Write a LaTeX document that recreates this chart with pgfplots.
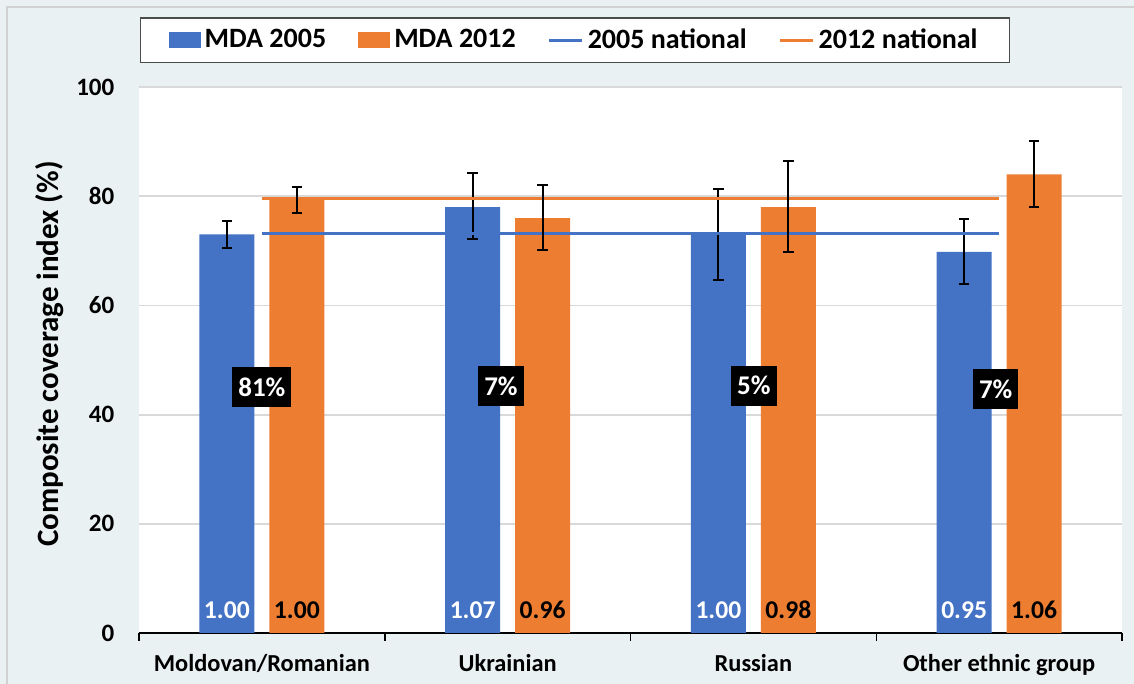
\documentclass[border=0pt]{standalone}
\usepackage{fontspec}
\setmainfont{Carlito}
\usepackage{pgfplots}
\pgfplotsset{compat=1.18}
\definecolor{cblue}{HTML}{4472C4}
\definecolor{corange}{HTML}{ED7D31}
\definecolor{bgc}{HTML}{EAF1F3}
\definecolor{gridc}{HTML}{D9D9D9}
\begin{document}
\begin{tikzpicture}
\path[use as bounding box, fill=bgc] (-69.5pt,-25.5pt) rectangle (497.5pt,316.5pt);
\draw[black!18, line width=1pt] (-66pt,-25.5pt) -- (-66pt,313pt) -- (497.5pt,313pt);
\begin{axis}[
  at={(0,0)}, anchor=south west,
  scale only axis, width=491.5pt, height=273.5pt,
  xmin=-0.5, xmax=3.5, ymin=0, ymax=100.2,
  axis x line*=bottom, axis y line*=left,
  axis line style={-},
  y axis line style={draw=none},
  x axis line style={black, line width=0.75pt},
  major tick length=0pt,
  xtick={0,1,2,3},
  xticklabels={Moldovan/Romanian, Ukrainian, Russian, Other ethnic group},
  extra x ticks={-0.5,0.5,1.5,2.5,3.5},
  extra x tick labels={},
  extra x tick style={major tick length=4pt, tick align=outside, tick style={black, line width=0.75pt}},
  ytick={0,20,40,60,80,100},
  ymajorgrids, grid style={gridc, line width=0.9pt},
  axis background/.style={fill=white},
  /pgf/number format/assume math mode=true,
  tick label style={black, font=\bfseries\fontsize{12.5}{15}\selectfont},
  yticklabel style={anchor=east, xshift=-8.8pt},
  xticklabel style={anchor=base, yshift=-19.5pt, font=\bfseries\fontsize{12.2}{14}\selectfont},
  ylabel={Composite coverage index (\%)},
  ylabel style={font=\bfseries\fontsize{15.5}{18}\selectfont, at={(axis description cs:-0.0905,0.51)}, anchor=center},
  legend columns=4,
  legend cell align=left,
  legend style={at={(axis description cs:0.001,1.1261)}, anchor=north west,
    draw=black!70, line width=0.75pt, fill=white,
    font=\bfseries\fontsize{14}{16}\selectfont,
    inner xsep=14pt, inner ysep=3.5pt,
    nodes={inner xsep=2pt, inner ysep=2pt},
    /tikz/every even column/.append style={column sep=14pt}},
]
% bars
\addplot[ybar, bar width=27.5pt, bar shift=-17.5pt, fill=cblue, draw=none,
  legend image code/.code={\fill[cblue] (0pt,-4pt) rectangle (16pt,4pt);}]
  coordinates {(0,73) (1,78) (2,73) (3,69.8)};
\addlegendentry{MDA 2005}
\addplot[ybar, bar width=27.5pt, bar shift=17.5pt, fill=corange, draw=none,
  legend image code/.code={\fill[corange] (0pt,-4pt) rectangle (16pt,4pt);}]
  coordinates {(0,79.5) (1,76) (2,78) (3,84)};
\addlegendentry{MDA 2012}
% blue error bars (at the blue bar centres)
\addplot[forget plot, draw=none, mark=none,
  error bars/.cd, y dir=both, y explicit,
  error bar style={draw=black, solid, line width=1pt},
  error mark options={draw=black, solid, line width=1pt, mark size=2.6pt, rotate=90}]
  coordinates {(-0.1424,73) +- (0,2.4) (0.8576,78.2) +- (0,6) (1.8576,73.05) +- (0,8.35) (2.8576,69.85) +- (0,6)};
% national lines
\addplot[cblue, line width=1.5pt, mark=none,
  legend image code/.code={\draw[cblue, line width=1.5pt] (0pt,0pt) -- (16.5pt,0pt);}]
  coordinates {(0,73.2) (3,73.2)};
\addlegendentry{2005 national}
\addplot[corange, line width=1.5pt, mark=none,
  legend image code/.code={\draw[corange, line width=1.5pt] (0pt,0pt) -- (16.5pt,0pt);}]
  coordinates {(0,79.6) (3,79.6)};
\addlegendentry{2012 national}
% orange error bars (at the orange bar centres)
\addplot[forget plot, draw=none, mark=none,
  error bars/.cd, y dir=both, y explicit,
  error bar style={draw=black, solid, line width=1pt},
  error mark options={draw=black, solid, line width=1pt, mark size=2.6pt, rotate=90}]
  coordinates {(0.1424,79.35) +- (0,2.35) (1.1424,76.1) +- (0,6) (2.1424,78.15) +- (0,8.35) (3.1424,84.1) +- (0,6)};
% share labels
\addplot[draw=none, mark=none, forget plot, nodes near coords, point meta=explicit symbolic,
  every node near coord/.append style={anchor=center, fill=black, text=white,
    font=\bfseries\fontsize{13.5}{16}\selectfont, inner xsep=3pt, minimum height=20pt}]
  coordinates {(0,45)[81\%] (0.973,45.2)[7\%] (2.002,45.3)[5\%] (2.986,44.7)[7\%]};
% ratio labels
\addplot[draw=none, mark=none, forget plot, nodes near coords, point meta=explicit symbolic,
  every node near coord/.append style={anchor=center, text=white,
    font=\bfseries\fontsize{12.8}{15}\selectfont}]
  coordinates {(-0.1424,4.2)[1.00] (0.8576,4.2)[1.07] (1.8576,4.2)[1.00] (2.8576,4.2)[0.95]};
\addplot[draw=none, mark=none, forget plot, nodes near coords, point meta=explicit symbolic,
  every node near coord/.append style={anchor=center, text=black,
    font=\bfseries\fontsize{12.8}{15}\selectfont}]
  coordinates {(0.1424,4.2)[1.00] (1.1424,4.2)[0.96] (2.1424,4.2)[0.98] (3.1424,4.2)[1.06]};
\end{axis}
\end{tikzpicture}
\end{document}
